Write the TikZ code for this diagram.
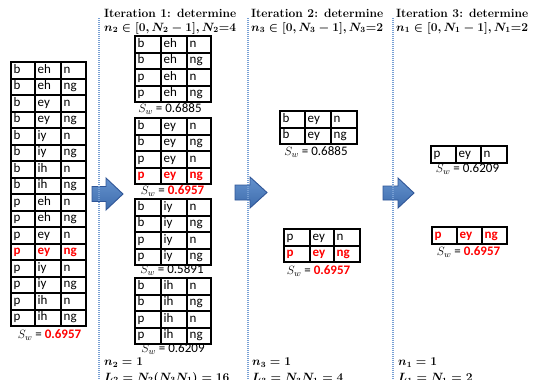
\documentclass[tikz,border=0pt]{standalone}
\usepackage{fontspec}
\setsansfont{Carlito}
\usepackage{amsmath}
\usetikzlibrary{matrix}
\definecolor{dotblue}{RGB}{120,160,212}
\definecolor{arrowtop}{RGB}{100,146,206}
\definecolor{arrowbot}{RGB}{62,108,172}
\definecolor{arrowline}{RGB}{47,85,151}
\newcommand\cellfnt{\fontsize{13}{15}\selectfont\sffamily}
\newcommand\hdrfnt{\fontsize{12}{14}\selectfont\bfseries\boldmath}
\begin{document}
\begin{tikzpicture}[x=1pt,y=-1pt,
 cell/.style={draw, line width=1.8pt, inner xsep=2.5pt, inner ysep=0pt, minimum height=16.5pt, text height=9pt, text depth=3pt, font=\cellfnt, align=left},
 tbl/.style={matrix of nodes, nodes={cell}, column sep=-1.8pt, row sep=-1.8pt, inner sep=0pt, anchor=north west},
 colw/.style n args={3}{column 1/.style={nodes={text width=#1}}, column 2/.style={nodes={text width=#2}}, column 3/.style={nodes={text width=#3}}},
 hl/.style={text=red, font=\cellfnt\bfseries},
 sw/.style={font=\cellfnt, inner sep=0pt},
 hdr/.style={font=\hdrfnt, anchor=west, inner sep=0pt},
 sepline/.style={dotblue, line width=1.2pt, dash pattern=on 1pt off 1pt},
 blockarrow/.style={top color=arrowtop, bottom color=arrowbot, draw=arrowline, line width=0.9pt, line join=miter}
]
\useasboundingbox (0,0) rectangle (538,380);
\fill[white] (0,0) rectangle (538,380);
\clip (0,0) rectangle (538,380);

% ---- left table ----
\matrix (L) [tbl, colw={19pt}{21pt}{20pt}] at (10.1,61.1) {
b & eh & n\\
b & eh & ng\\
b & ey & n\\
b & ey & ng\\
b & iy & n\\
b & iy & ng\\
b & ih & n\\
b & ih & ng\\
p & eh & n\\
p & eh & ng\\
p & ey & n\\
|[hl]|p & |[hl]|ey & |[hl]|ng\\
p & iy & n\\
p & iy & ng\\
p & ih & n\\
p & ih & ng\\
};
\node[sw] (sL) at (49.5,335) {$S_w$ = \textcolor{red}{\bfseries 0.6957}};

% ---- iteration 1 ----
\node[hdr] (h1a) at (104,13) {Iteration 1: determine};
\node[hdr] (h1b) at (104,28) {$n_2\in[0,N_2-1],N_2$=4};
\matrix (A1) [tbl, colw={21pt}{21pt}{19pt}] at (134.1,35.1) {
b & eh & n\\
b & eh & ng\\
p & eh & n\\
p & eh & ng\\
};
\node[sw] (sA1) at (170,109) {$S_w$ = 0.6885};
\matrix (A2) [tbl, colw={21pt}{21pt}{19pt}] at (134.1,117.1) {
b & ey & n\\
b & ey & ng\\
p & ey & n\\
|[hl]|p & |[hl]|ey & |[hl]|ng\\
};
\node[sw] (sA2) at (172.5,191) {$S_w$ = \textcolor{red}{\bfseries 0.6957}};
\matrix (A3) [tbl, colw={21pt}{21pt}{19pt}] at (134.1,198.1) {
b & iy & n\\
b & iy & ng\\
p & iy & n\\
p & iy & ng\\
};
\node[sw] (sA3) at (172,270) {$S_w$ = 0.5891};
\matrix (A4) [tbl, colw={21pt}{21pt}{19pt}] at (134.1,277.1) {
b & ih & n\\
b & ih & ng\\
p & ih & n\\
p & ih & ng\\
};
\node[sw] (sA4) at (173,349) {$S_w$ = 0.6209};
\node[hdr] (b1a) at (104,363) {$n_2=1$};
\node[hdr] (b1b) at (104,378) {$L_2=N_2(N_3N_1)=16$};

% ---- iteration 2 ----
\node[hdr] (h2a) at (251,13) {Iteration 2: determine};
\node[hdr] (h2b) at (251,28) {$n_3\in[0,N_3-1],N_3$=2};
\matrix (B1) [tbl, colw={20pt}{21pt}{21pt}] at (279.1,110.1) {
b & ey & n\\
b & ey & ng\\
};
\node[sw] (sB1) at (316,152) {$S_w$ = 0.6885};
\matrix (B2) [tbl, colw={21pt}{19pt}{21pt}] at (283.1,228.1) {
p & ey & n\\
|[hl]|p & |[hl]|ey & |[hl]|ng\\
};
\node[sw] (sB2) at (318.5,271) {$S_w$ = \textcolor{red}{\bfseries 0.6957}};
\node[hdr] (b2a) at (252,363) {$n_3=1$};
\node[hdr] (b2b) at (252,378) {$L_3=N_3N_1=4$};

% ---- iteration 3 ----
\node[hdr] (h3a) at (396,13) {Iteration 3: determine};
\node[hdr] (h3b) at (396,28) {$n_1\in[0,N_1-1],N_1$=2};
\matrix (C1) [tbl, colw={20pt}{20pt}{21pt}] at (430.1,145.1) {
p & ey & n\\
};
\node[sw] (sC1) at (467.5,169) {$S_w$ = 0.6209};
\matrix (C2) [tbl, colw={20pt}{20pt}{20pt}] at (431.1,226.1) {
|[hl]|p & |[hl]|ey & |[hl]|ng\\
};
\node[sw] (sC2) at (468.5,252) {$S_w$ = \textcolor{red}{\bfseries 0.6957}};
\node[hdr] (b3a) at (398,363) {$n_1=1$};
\node[hdr] (b3b) at (398,378) {$L_1=N_1=2$};

% ---- block arrows ----
\shadedraw[blockarrow] (92,186.5) -- (106,186.5) -- (106,178) -- (123,194) -- (106,210) -- (106,201.5) -- (92,201.5) -- cycle;
\shadedraw[blockarrow] (235,185) -- (250,185) -- (250,177) -- (267,192.5) -- (250,208) -- (250,200) -- (235,200) -- cycle;
\shadedraw[blockarrow] (383,186) -- (398,186) -- (398,178) -- (414,193) -- (398,208) -- (398,200) -- (383,200) -- cycle;

% ---- dotted separators ----
\coordinate (d1t) at (99,18);  \coordinate (d1b) at (99,380);
\coordinate (d2t) at (248,18); \coordinate (d2b) at (248,380);
\coordinate (d3t) at (393,18); \coordinate (d3b) at (393,380);
\draw[sepline] (d1t) -- (d1b);
\draw[sepline] (d2t) -- (d2b);
\draw[sepline] (d3t) -- (d3b);
\end{tikzpicture}
\end{document}
